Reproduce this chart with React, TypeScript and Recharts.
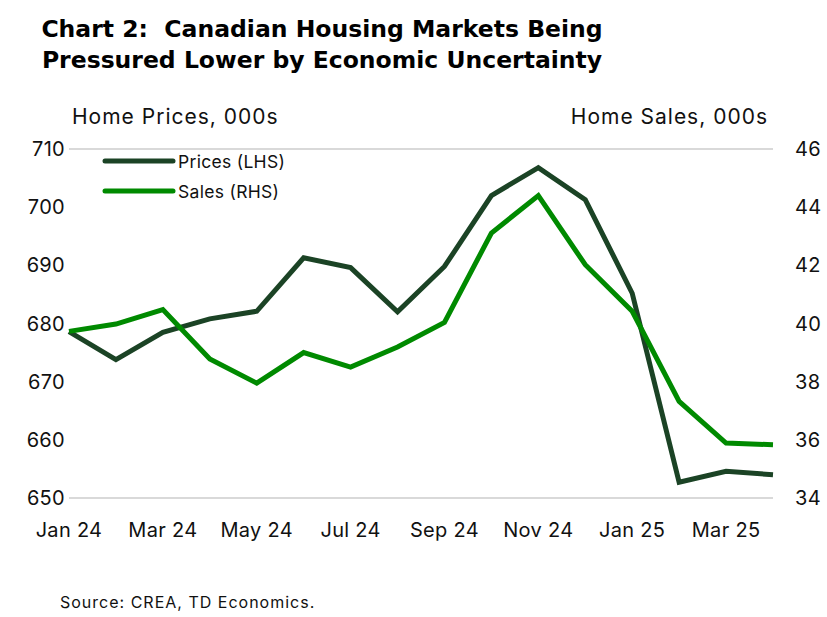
import React from "react";
import {
  LineChart,
  Line,
  XAxis,
  YAxis,
  CartesianGrid,
} from "recharts";

const months = [
  "Jan 24", "Feb 24", "Mar 24", "Apr 24", "May 24", "Jun 24", "Jul 24", "Aug 24",
  "Sep 24", "Oct 24", "Nov 24", "Dec 24", "Jan 25", "Feb 25", "Mar 25", "Apr 25",
];

// home prices, 000s (left axis)
const prices = [
  678.6, 673.8, 678.5, 680.8, 682.1, 691.3, 689.6, 682.0,
  689.8, 702.0, 706.8, 701.3, 685.2, 652.7, 654.6, 654.0,
];

// home sales, 000s (right axis)
const sales = [
  39.73, 39.98, 40.48, 38.78, 37.95, 39.0, 38.5, 39.19,
  40.04, 43.11, 44.4, 42.02, 40.42, 37.32, 35.89, 35.83,
];

const leftTicks = [650, 660, 670, 680, 690, 700, 710];
const rightTicks = [34, 36, 38, 40, 42, 44, 46];

const PRICE_COLOR = "#1b4325";
const SALES_COLOR = "#008a00";
const FONT = "Inter, 'Noto Sans', sans-serif";

const data = months.map((m, i) => ({ month: m, prices: prices[i], sales: sales[i] }));

const legendItems = [
  { label: "Prices (LHS)", color: PRICE_COLOR },
  { label: "Sales (RHS)", color: SALES_COLOR },
];

const tickStyle = { fill: "#111", fontSize: 20, fontFamily: FONT, letterSpacing: 0.3 };

export default function App() {
  return (
    <div
      style={{
        position: "absolute",
        left: 0,
        top: 0,
        width: 827,
        height: 617,
        background: "#fff",
        overflow: "hidden",
      }}
    >
      <div style={{ position: "absolute", left: 0, top: 0 }}>
        <LineChart
          width={827}
          height={617}
          data={data}
          margin={{ top: 149, right: 0, bottom: 79, left: 9 }}
        >
          <CartesianGrid vertical={false} stroke="#d9d9d9" strokeWidth={2} />
          <XAxis
            dataKey="month"
            interval={1}
            axisLine={false}
            tickLine={false}
            tickSize={0}
            tickMargin={25}
            height={40}
            tick={tickStyle}
          />
          <YAxis
            yAxisId="left"
            domain={[650, 710]}
            ticks={leftTicks}
            axisLine={false}
            tickLine={false}
            tickSize={0}
            tickMargin={4}
            width={60}
            tick={tickStyle}
          />
          <YAxis
            yAxisId="right"
            orientation="right"
            domain={[34, 46]}
            ticks={rightTicks}
            axisLine={false}
            tickLine={false}
            tickSize={0}
            tickMargin={22}
            width={54}
            tick={tickStyle}
          />
          <Line
            yAxisId="left"
            dataKey="prices"
            stroke={PRICE_COLOR}
            strokeWidth={5}
            dot={false}
            isAnimationActive={false}
          />
          <Line
            yAxisId="right"
            dataKey="sales"
            stroke={SALES_COLOR}
            strokeWidth={5}
            dot={false}
            isAnimationActive={false}
          />
        </LineChart>
      </div>

      <div
        style={{
          position: "absolute",
          left: 0,
          top: 14,
          width: 644,
          textAlign: "center",
          fontFamily: "'DejaVu Sans', sans-serif",
          fontWeight: 700,
          fontSize: 23.5,
          lineHeight: "31px",
          color: "#000",
        }}
      >
        <div>Chart 2:&nbsp; Canadian Housing Markets Being</div>
        <div>Pressured Lower by Economic Uncertainty</div>
      </div>

      <div style={{ position: "absolute", left: 72, top: 104, fontFamily: FONT, fontSize: 21, letterSpacing: 1, color: "#111" }}>
        Home Prices, 000s
      </div>
      <div style={{ position: "absolute", right: 59, top: 104, fontFamily: FONT, fontSize: 21, letterSpacing: 1, color: "#111" }}>
        Home Sales, 000s
      </div>

      <div style={{ position: "absolute", left: 101, top: 146, fontFamily: FONT, fontSize: 17.5, color: "#111" }}>
        {legendItems.map((item) => (
          <div key={item.label} style={{ display: "flex", alignItems: "center", height: 30 }}>
            <svg width={76} height={10}>
              <line x1={4} y1={5} x2={72} y2={5} stroke={item.color} strokeWidth={5} strokeLinecap="round" />
            </svg>
            <span style={{ marginLeft: 1, letterSpacing: 0.3 }}>{item.label}</span>
          </div>
        ))}
      </div>

      <div style={{ position: "absolute", left: 60, top: 592, fontFamily: FONT, fontSize: 16, letterSpacing: 1, color: "#111" }}>
        Source: CREA, TD Economics.
      </div>
    </div>
  );
}
